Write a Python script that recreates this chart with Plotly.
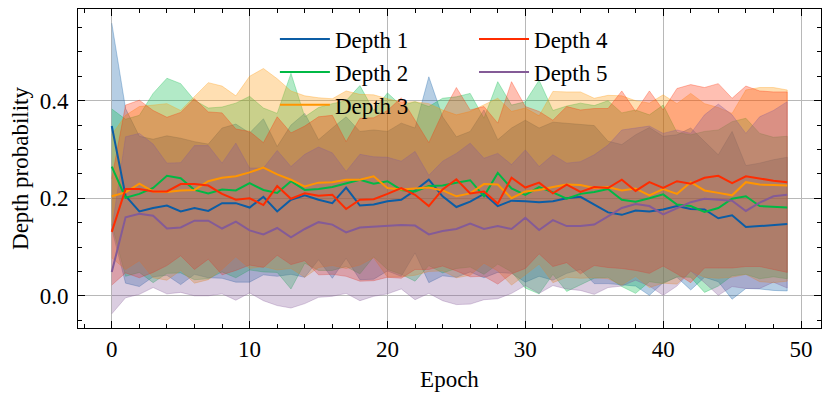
import plotly.graph_objects as go
import numpy as np

epochs = list(range(50))

# mean depth probability per epoch
depth1_mean = [0.348, 0.205, 0.173, 0.180, 0.185, 0.173, 0.180, 0.174, 0.190, 0.190,
               0.181, 0.203, 0.173, 0.197, 0.206, 0.197, 0.190, 0.222, 0.185, 0.187,
               0.194, 0.197, 0.216, 0.238, 0.204, 0.182, 0.193, 0.209, 0.184, 0.195,
               0.194, 0.192, 0.194, 0.200, 0.203, 0.187, 0.171, 0.166, 0.175, 0.173,
               0.177, 0.184, 0.178, 0.177, 0.159, 0.165, 0.141, 0.143, 0.145, 0.147]
depth2_mean = [0.265, 0.201, 0.209, 0.221, 0.246, 0.241, 0.217, 0.210, 0.218, 0.216,
               0.231, 0.217, 0.211, 0.235, 0.217, 0.219, 0.223, 0.230, 0.238, 0.230,
               0.235, 0.217, 0.214, 0.225, 0.226, 0.232, 0.237, 0.204, 0.252, 0.220,
               0.207, 0.223, 0.212, 0.199, 0.209, 0.213, 0.219, 0.197, 0.193, 0.200,
               0.208, 0.187, 0.184, 0.172, 0.180, 0.199, 0.204, 0.184, 0.182, 0.181]
depth3_mean = [0.204, 0.212, 0.230, 0.214, 0.213, 0.216, 0.217, 0.235, 0.242, 0.245,
               0.253, 0.263, 0.249, 0.238, 0.224, 0.232, 0.233, 0.238, 0.238, 0.245,
               0.221, 0.218, 0.220, 0.222, 0.216, 0.204, 0.210, 0.229, 0.228, 0.200,
               0.214, 0.217, 0.223, 0.228, 0.227, 0.221, 0.223, 0.216, 0.220, 0.206,
               0.219, 0.209, 0.233, 0.216, 0.211, 0.206, 0.233, 0.228, 0.227, 0.226]
depth4_mean = [0.131, 0.219, 0.219, 0.214, 0.214, 0.229, 0.229, 0.226, 0.209, 0.197,
               0.200, 0.186, 0.225, 0.199, 0.210, 0.205, 0.207, 0.178, 0.197, 0.198,
               0.209, 0.221, 0.207, 0.184, 0.218, 0.239, 0.210, 0.214, 0.189, 0.242,
               0.222, 0.232, 0.210, 0.228, 0.213, 0.223, 0.221, 0.238, 0.215, 0.233,
               0.221, 0.235, 0.230, 0.242, 0.246, 0.231, 0.245, 0.240, 0.236, 0.233]
depth5_mean = [0.049, 0.161, 0.168, 0.164, 0.138, 0.140, 0.154, 0.154, 0.138, 0.152,
               0.134, 0.126, 0.139, 0.120, 0.137, 0.151, 0.146, 0.130, 0.140, 0.142,
               0.144, 0.145, 0.144, 0.126, 0.133, 0.137, 0.148, 0.137, 0.143, 0.137,
               0.160, 0.135, 0.155, 0.143, 0.143, 0.146, 0.163, 0.180, 0.188, 0.184,
               0.167, 0.180, 0.192, 0.199, 0.197, 0.195, 0.174, 0.191, 0.204, 0.207]

# spread (std) per epoch, shaded as mean +/- std
depth1_std = [0.211, 0.179, 0.154, 0.141, 0.143, 0.150, 0.136, 0.137, 0.154, 0.162,
              0.153, 0.160, 0.133, 0.153, 0.168, 0.123, 0.154, 0.145, 0.152, 0.153,
              0.143, 0.157, 0.128, 0.211, 0.163, 0.144, 0.144, 0.172, 0.136, 0.149,
              0.166, 0.152, 0.162, 0.154, 0.149, 0.162, 0.146, 0.144, 0.155, 0.172,
              0.150, 0.146, 0.166, 0.139, 0.130, 0.172, 0.126, 0.129, 0.134, 0.137]
depth2_std = [0.118, 0.161, 0.161, 0.194, 0.200, 0.194, 0.184, 0.175, 0.169, 0.179,
              0.178, 0.168, 0.163, 0.221, 0.150, 0.167, 0.171, 0.170, 0.193, 0.150,
              0.181, 0.173, 0.184, 0.163, 0.179, 0.176, 0.178, 0.160, 0.187, 0.171,
              0.191, 0.219, 0.168, 0.190, 0.186, 0.177, 0.181, 0.178, 0.188, 0.171,
              0.183, 0.148, 0.146, 0.165, 0.160, 0.158, 0.160, 0.149, 0.143, 0.146]
depth3_std = [0.126, 0.158, 0.158, 0.177, 0.181, 0.164, 0.191, 0.202, 0.188, 0.165,
              0.197, 0.203, 0.196, 0.182, 0.186, 0.174, 0.171, 0.182, 0.175, 0.167,
              0.183, 0.179, 0.178, 0.172, 0.165, 0.167, 0.168, 0.162, 0.177, 0.178,
              0.171, 0.152, 0.196, 0.190, 0.191, 0.184, 0.188, 0.194, 0.180, 0.189,
              0.193, 0.185, 0.182, 0.178, 0.175, 0.168, 0.189, 0.199, 0.200, 0.196]
depth4_std = [0.109, 0.172, 0.182, 0.166, 0.152, 0.147, 0.175, 0.151, 0.166, 0.145,
              0.137, 0.128, 0.142, 0.135, 0.138, 0.162, 0.163, 0.138, 0.167, 0.167,
              0.171, 0.185, 0.153, 0.130, 0.157, 0.188, 0.171, 0.174, 0.165, 0.197,
              0.166, 0.146, 0.150, 0.160, 0.168, 0.161, 0.163, 0.182, 0.163, 0.187,
              0.160, 0.190, 0.203, 0.185, 0.189, 0.174, 0.185, 0.180, 0.182, 0.185]
depth5_std = [0.086, 0.165, 0.165, 0.147, 0.134, 0.133, 0.154, 0.154, 0.134, 0.161,
              0.128, 0.136, 0.159, 0.145, 0.153, 0.154, 0.147, 0.125, 0.150, 0.143,
              0.140, 0.131, 0.152, 0.121, 0.143, 0.155, 0.165, 0.145, 0.149, 0.132,
              0.139, 0.130, 0.134, 0.129, 0.132, 0.143, 0.146, 0.160, 0.156, 0.164,
              0.166, 0.160, 0.141, 0.172, 0.196, 0.176, 0.159, 0.176, 0.176, 0.191]

labels = ["Depth 1", "Depth 2", "Depth 3", "Depth 4", "Depth 5"]
means = [depth1_mean, depth2_mean, depth3_mean, depth4_mean, depth5_mean]
stds = [depth1_std, depth2_std, depth3_std, depth4_std, depth5_std]
colors = [(12, 93, 165), (0, 185, 69), (255, 149, 0), (255, 44, 0), (132, 91, 151)]

FONT = "Liberation Serif"

fig = go.Figure()

# shaded bands first (below every line)
for mean, std, c in zip(means, stds, colors):
    m = np.array(mean)
    s = np.array(std)
    upper = m + s
    lower = m - s
    rgba = "rgba(%d,%d,%d,0.3)" % c
    fig.add_trace(go.Scatter(
        x=epochs + epochs[::-1],
        y=list(upper) + list(lower[::-1]),
        fill="toself",
        fillcolor=rgba,
        line=dict(color=rgba, width=1),
        mode="lines",
        hoverinfo="skip",
        showlegend=False,
    ))

# mean lines
for i, (lab, mean, c) in enumerate(zip(labels, means, colors)):
    fig.add_trace(go.Scatter(
        x=epochs,
        y=mean,
        mode="lines",
        name=lab,
        line=dict(color="rgb(%d,%d,%d)" % c, width=2),
        legend="legend" if i < 3 else "legend2",
    ))

axis_common = dict(
    showline=True,
    linecolor="black",
    linewidth=1,
    mirror="allticks",
    ticks="inside",
    ticklen=7,
    tickwidth=1,
    tickcolor="black",
    showgrid=True,
    gridcolor="#b8b8b8",
    gridwidth=1,
    zeroline=False,
    automargin=False,
    tickfont=dict(family=FONT, size=23, color="black"),
)

# the page body adds an 8px offset, so the figure is sized to fit the window
fig.update_layout(
    width=822,
    height=390,
    margin=dict(l=70, r=9, t=1, b=70),
    paper_bgcolor="white",
    plot_bgcolor="white",
    font=dict(family=FONT, size=23, color="black"),
    xaxis=dict(
        **axis_common,
        range=[-2.45, 51.45],
        tick0=0,
        dtick=10,
        ticklabelstandoff=0,
        minor=dict(dtick=2, ticks="inside", ticklen=4, tickcolor="black", showgrid=False),
        title=dict(text="Epoch", font=dict(family=FONT, size=23), standoff=10),
    ),
    yaxis=dict(
        **axis_common,
        range=[-0.066, 0.588],
        tick0=0,
        dtick=0.2,
        tickformat=".1f",
        ticklabelstandoff=4,
        minor=dict(dtick=0.05, ticks="inside", ticklen=4, tickcolor="black", showgrid=False),
        title=dict(text="Depth probability", font=dict(family=FONT, size=23), standoff=9),
    ),
    legend=dict(
        x=0.265, y=0.973, xanchor="left", yanchor="top",
        bgcolor="rgba(0,0,0,0)", font=dict(family=FONT, size=23),
        tracegroupgap=0, itemwidth=50,
    ),
    legend2=dict(
        x=0.533, y=0.973, xanchor="left", yanchor="top",
        bgcolor="rgba(0,0,0,0)", font=dict(family=FONT, size=23),
        tracegroupgap=0, itemwidth=50,
    ),
)

fig.write_html("out.html")
